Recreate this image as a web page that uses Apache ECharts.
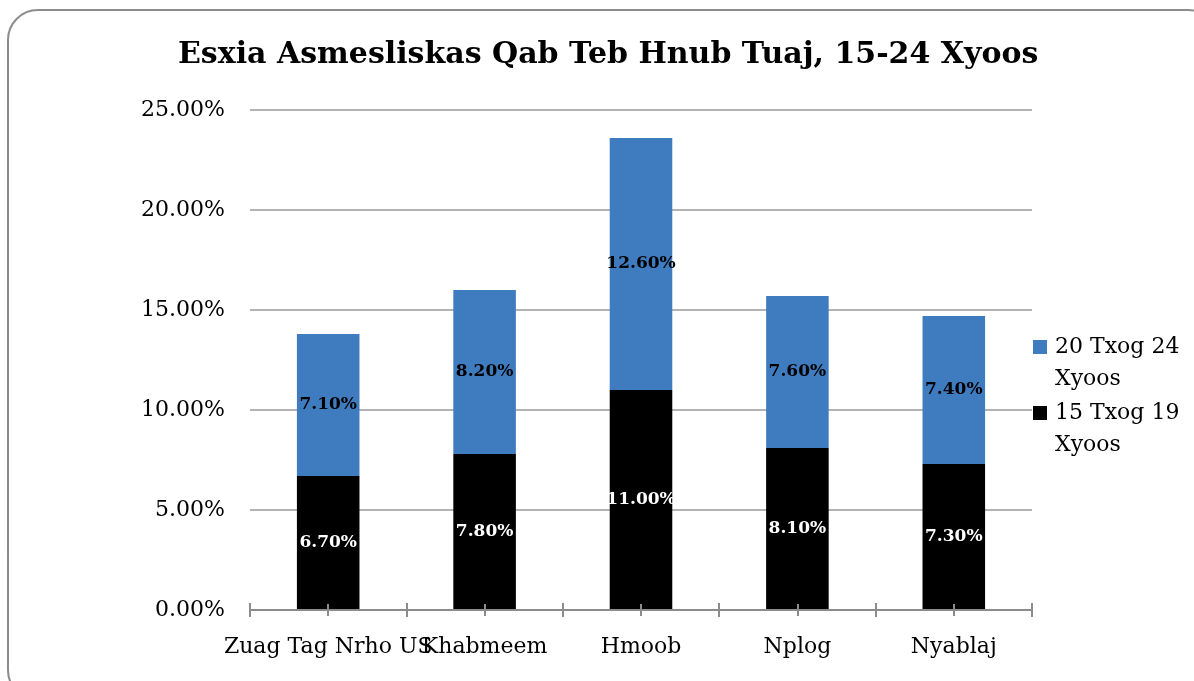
<!DOCTYPE html>
<html>
<head>
<meta charset="utf-8">
<script src="https://cdn.jsdelivr.net/npm/echarts@6/dist/echarts.min.js"></script>
<style>
html, body { margin: 0; padding: 0; background: #fff; }
#main { width: 1194px; height: 681px; }
</style>
</head>
<body>
<div id="main"></div>
<script>
var categories = ['Zuag Tag Nrho US', 'Khabmeem', 'Hmoob', 'Nplog', 'Nyablaj'];
var age15to19 = [6.7, 7.8, 11.0, 8.1, 7.3];
var age20to24 = [7.1, 8.2, 12.6, 7.6, 7.4];
var seriesNames = ['15 Txog 19 Xyoos', '20 Txog 24 Xyoos'];

var FONT = '"DejaVu Serif", "Liberation Serif", serif';

function pct(p) {
    return p.value.toFixed(2) + '%';
}

// square sitting at the top of a taller box, so it lines up with the first legend line
var legendIcon = 'path://M0,0H14V14H0Z M0,46L0,46';

var chart = echarts.init(document.getElementById('main'));

var option = {
    backgroundColor: '#fff',
    animation: false,
    textStyle: { fontFamily: FONT },
    graphic: [{
        type: 'rect',
        shape: { x: 8, y: 10, width: 1210, height: 690, r: 30 },
        style: { fill: 'none', stroke: '#8c8c8c', lineWidth: 2 },
        silent: true
    }],
    title: {
        text: 'Esxia Asmesliskas Qab Teb Hnub Tuaj, 15-24 Xyoos',
        left: 173,
        top: 35,
        textStyle: { fontFamily: FONT, fontSize: 30, fontWeight: 'bold', color: '#000' }
    },
    legend: {
        orient: 'vertical',
        left: 1028,
        top: 326,
        itemWidth: 14,
        itemHeight: 46,
        itemGap: 2,
        icon: legendIcon,
        data: [seriesNames[1], seriesNames[0]],
        formatter: function (name) {
            return name.replace(' Xyoos', '\nXyoos');
        },
        textStyle: { fontFamily: FONT, fontSize: 22, color: '#000', lineHeight: 32, padding: [0, 0, 0, 3] }
    },
    grid: { left: 250, right: 162, top: 110, bottom: 71 },
    xAxis: [{
        type: 'category',
        data: categories,
        z: 3,
        axisLine: { lineStyle: { color: '#8c8c8c', width: 2 } },
        axisTick: { show: true, length: 7, lineStyle: { color: '#8c8c8c', width: 2 } },
        axisLabel: { fontFamily: FONT, fontSize: 22, color: '#000', margin: 26, interval: 0 }
    }, {
        type: 'category',
        data: categories,
        position: 'bottom',
        z: 3,
        axisLine: { show: false },
        axisTick: { show: true, inside: true, length: 7, lineStyle: { color: '#8c8c8c', width: 2 } },
        axisLabel: { show: false }
    }, {
        type: 'category',
        data: categories,
        position: 'bottom',
        z: 3,
        axisLine: { show: false },
        axisTick: { show: true, alignWithLabel: true, length: 6, lineStyle: { color: '#8c8c8c', width: 2 } },
        axisLabel: { show: false }
    }, {
        type: 'category',
        data: categories,
        position: 'bottom',
        z: 3,
        axisLine: { show: false },
        axisTick: { show: true, inside: true, alignWithLabel: true, length: 6, lineStyle: { color: '#8c8c8c', width: 2 } },
        axisLabel: { show: false }
    }],
    yAxis: {
        type: 'value',
        min: 0,
        max: 25,
        interval: 5,
        axisLine: { show: false },
        axisTick: { show: false },
        splitLine: { lineStyle: { color: '#b3b3b3', width: 2 } },
        axisLabel: {
            fontFamily: FONT, fontSize: 22, color: '#000', margin: 25,
            formatter: function (v) { return v.toFixed(2) + '%'; }
        }
    },
    series: [{
        name: seriesNames[0],
        type: 'bar',
        stack: 'total',
        barWidth: '40%',
        data: age15to19,
        itemStyle: { color: '#000' },
        label: {
            show: true,
            position: 'inside',
            formatter: pct,
            fontFamily: FONT, fontSize: 17, fontWeight: 'bold', color: '#fff'
        }
    }, {
        name: seriesNames[1],
        type: 'bar',
        stack: 'total',
        barWidth: '40%',
        data: age20to24,
        itemStyle: { color: '#3f7cbf' },
        label: {
            show: true,
            position: 'inside',
            formatter: pct,
            fontFamily: FONT, fontSize: 17, fontWeight: 'bold', color: '#000'
        }
    }]
};

chart.setOption(option);
</script>
</body>
</html>
